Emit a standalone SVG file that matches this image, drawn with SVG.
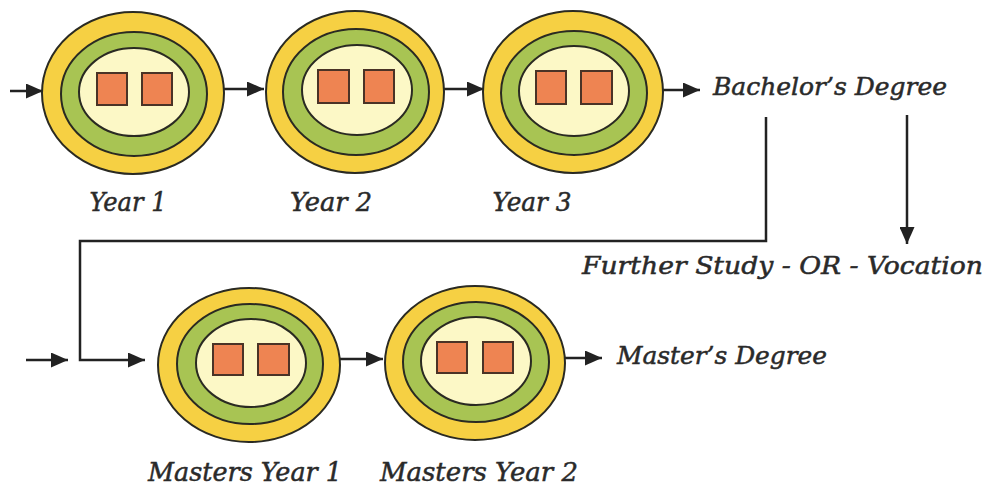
<svg xmlns="http://www.w3.org/2000/svg" width="991" height="488" viewBox="0 0 991 488">
  <defs>
    <marker id="arrow" markerUnits="userSpaceOnUse" markerWidth="17" markerHeight="15" refX="17" refY="7.5" orient="auto">
      <path d="M0,0 L17,7.5 L0,15 z" fill="#222"/>
    </marker>
    <style>
      .outer { fill: #F6D043; stroke: #2a2a22; stroke-width: 2; }
      .mid { fill: #A8C453; stroke: #2a2a22; stroke-width: 2; }
      .inner { fill: #FCF8C6; stroke: #2a2a22; stroke-width: 2; }
      .sq { fill: #EE8452; stroke: #4a3326; stroke-width: 2; }
      .conn { fill: none; stroke: #222; stroke-width: 2.5; }
      .lbl { font-family: "DejaVu Serif", "Liberation Serif", serif; font-style: italic; fill: #2a2a2a; stroke: #2a2a2a; stroke-width: 0.5; }
    </style>
  </defs>
  <rect width="991" height="488" fill="#fff"/>

  <!-- connectors -->
  <g id="connectors">
    <line class="conn" x1="10" y1="91" x2="43" y2="91" marker-end="url(#arrow)"/>
    <line class="conn" x1="222" y1="89" x2="264" y2="89" marker-end="url(#arrow)"/>
    <line class="conn" x1="442" y1="89" x2="484" y2="89" marker-end="url(#arrow)"/>
    <line class="conn" x1="652" y1="90" x2="700" y2="90" marker-end="url(#arrow)"/>
    <polyline class="conn" points="766,117 766,241 80,241 80,360 145,360" marker-end="url(#arrow)"/>
    <line class="conn" x1="907" y1="115" x2="907" y2="244" marker-end="url(#arrow)"/>
    <line class="conn" x1="26" y1="360" x2="68" y2="360" marker-end="url(#arrow)"/>
    <line class="conn" x1="338" y1="359" x2="383" y2="359" marker-end="url(#arrow)"/>
    <line class="conn" x1="555" y1="358" x2="602" y2="358" marker-end="url(#arrow)"/>
  </g>

  <!-- year nodes -->
  <g id="year1">
    <ellipse class="outer" cx="133" cy="93" rx="91" ry="81"/>
    <ellipse class="mid" cx="134" cy="94" rx="73" ry="62"/>
    <ellipse class="inner" cx="134" cy="92" rx="55" ry="44"/>
    <rect class="sq" x="97" y="73" width="30" height="32"/>
    <rect class="sq" x="142" y="73" width="30" height="32"/>
    <text class="lbl" x="128" y="211" font-size="26" text-anchor="middle" textLength="77" lengthAdjust="spacingAndGlyphs">Year 1</text>
  </g>
  <g id="year2">
    <ellipse class="outer" cx="355" cy="92" rx="89" ry="81"/>
    <ellipse class="mid" cx="356" cy="92" rx="73" ry="63"/>
    <ellipse class="inner" cx="357" cy="90" rx="55" ry="45"/>
    <rect class="sq" x="318" y="70" width="31" height="33"/>
    <rect class="sq" x="364" y="70" width="30" height="33"/>
    <text class="lbl" x="331" y="211" font-size="26" text-anchor="middle" textLength="82" lengthAdjust="spacingAndGlyphs">Year 2</text>
  </g>
  <g id="year3">
    <ellipse class="outer" cx="573" cy="92" rx="90" ry="81"/>
    <ellipse class="mid" cx="574" cy="93" rx="73" ry="62"/>
    <ellipse class="inner" cx="574" cy="91" rx="55" ry="45"/>
    <rect class="sq" x="536" y="71" width="30" height="33"/>
    <rect class="sq" x="581" y="71" width="31" height="33"/>
    <text class="lbl" x="532" y="211" font-size="26" text-anchor="middle" textLength="79" lengthAdjust="spacingAndGlyphs">Year 3</text>
  </g>

  <g id="bachelors">
    <text class="lbl" x="713" y="95" font-size="24" textLength="234" lengthAdjust="spacingAndGlyphs">Bachelor’s Degree</text>
  </g>
  <g id="further">
    <text class="lbl" x="582" y="274" font-size="24" textLength="401" lengthAdjust="spacingAndGlyphs">Further Study - OR - Vocation</text>
  </g>

  <!-- masters nodes -->
  <g id="masters1">
    <ellipse class="outer" cx="249" cy="365" rx="91" ry="77"/>
    <ellipse class="mid" cx="250" cy="364" rx="73" ry="60"/>
    <ellipse class="inner" cx="251" cy="363" rx="55" ry="44"/>
    <rect class="sq" x="213" y="344" width="30" height="31"/>
    <rect class="sq" x="258" y="344" width="31" height="31"/>
    <text class="lbl" x="148" y="481" font-size="26" textLength="194" lengthAdjust="spacingAndGlyphs">Masters Year 1</text>
  </g>
  <g id="masters2">
    <ellipse class="outer" cx="475" cy="363" rx="90" ry="77"/>
    <ellipse class="mid" cx="476" cy="362" rx="73" ry="60"/>
    <ellipse class="inner" cx="476" cy="361" rx="55" ry="44"/>
    <rect class="sq" x="437" y="342" width="30" height="31"/>
    <rect class="sq" x="483" y="342" width="30" height="31"/>
    <text class="lbl" x="380" y="481" font-size="26" textLength="198" lengthAdjust="spacingAndGlyphs">Masters Year 2</text>
  </g>

  <g id="masters-degree">
    <text class="lbl" x="617" y="364" font-size="24" textLength="210" lengthAdjust="spacingAndGlyphs">Master’s Degree</text>
  </g>
</svg>
